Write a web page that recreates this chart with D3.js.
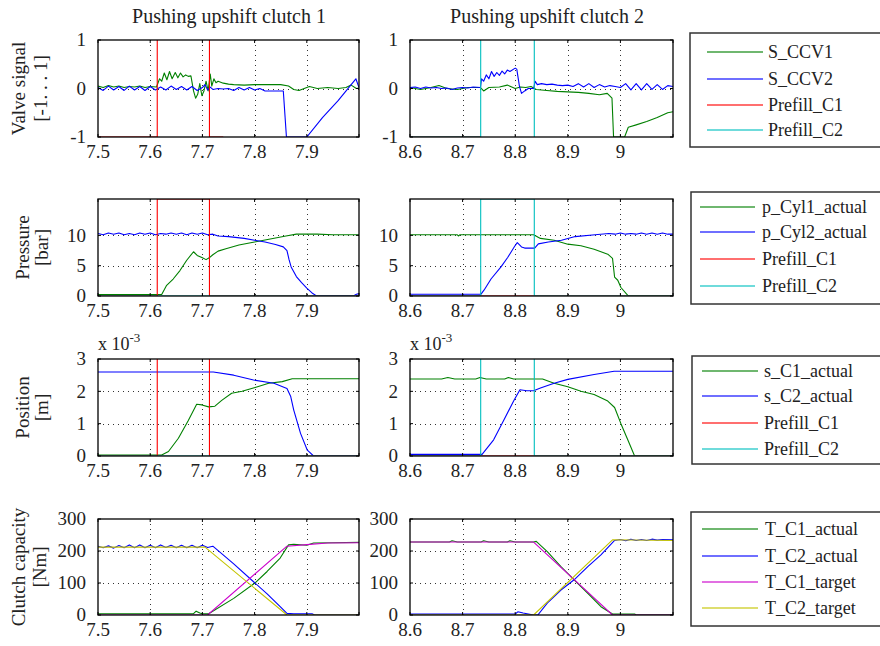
<!DOCTYPE html>
<html>
<head>
<meta charset="utf-8">
<script src="https://cdn.jsdelivr.net/npm/d3@7"></script>
<style>
  body { margin: 0; background: #fff; }
  svg { display: block; }
  text { font-family: "Liberation Serif", "DejaVu Serif", serif; fill: #222; }
</style>
</head>
<body>
<svg id="chart" width="880" height="646"></svg>
<script>
// ---- Data (time [s], value) ----

// Valve signal [-1..1]
const sCCV1Left = [[7.50,0.05],[7.51,0.02],[7.52,0.06],[7.53,0.03],[7.54,0.05],[7.55,0.02],[7.56,0.04],[7.57,0.03],[7.58,0.05],[7.59,0.02],[7.60,0.04],[7.612,0.03],[7.618,0.2],[7.622,0.15],[7.627,0.32],[7.632,0.18],[7.637,0.35],[7.642,0.2],[7.648,0.33],[7.653,0.22],[7.658,0.32],[7.663,0.24],[7.668,0.28],[7.673,0.25],[7.678,0.26],[7.683,-0.05],[7.687,-0.2],[7.691,-0.12],[7.695,0.1],[7.699,-0.15],[7.703,-0.05],[7.707,0.15],[7.711,-0.05],[7.715,0.3],[7.718,0.05],[7.722,0.2],[7.726,0.12],[7.73,0.15],[7.74,0.11],[7.75,0.09],[7.76,0.08],[7.78,0.07],[7.80,0.08],[7.85,0.08],[7.865,0.05],[7.875,-0.02],[7.885,-0.04],[7.895,0.0],[7.905,0.04],[7.92,0.0],[7.94,0.02],[7.96,0.0],[7.975,0.02],[7.985,0.07],[7.995,0.0],[8.0,0.01]];
const sCCV2Left = [[7.50,0.02],[7.51,-0.04],[7.52,0.05],[7.53,-0.03],[7.54,0.04],[7.55,-0.04],[7.56,0.05],[7.57,-0.03],[7.58,0.04],[7.59,-0.04],[7.60,0.04],[7.61,-0.03],[7.62,0.03],[7.63,-0.03],[7.64,0.05],[7.65,-0.02],[7.66,0.04],[7.67,-0.03],[7.68,0.04],[7.69,-0.04],[7.70,0.02],[7.705,0.08],[7.71,-0.03],[7.715,0.03],[7.72,-0.02],[7.73,0.0],[7.74,-0.01],[7.75,0.0],[7.76,-0.04],[7.77,0.02],[7.78,-0.03],[7.79,0.02],[7.80,-0.03],[7.81,0.0],[7.82,-0.05],[7.855,-0.05],[7.861,-1],[7.90,-1],[7.93,-0.6],[7.96,-0.25],[7.994,0.2],[8.0,0.02]];
const sCCV1Right = [[8.60,0.02],[8.62,-0.02],[8.64,0.02],[8.655,0.06],[8.67,0.0],[8.69,-0.02],[8.71,0.02],[8.734,0.02],[8.74,-0.05],[8.75,0.02],[8.77,0.03],[8.785,0.07],[8.80,0.0],[8.81,0.03],[8.82,0.02],[8.83,0.04],[8.84,-0.02],[8.86,-0.04],[8.88,-0.06],[8.90,-0.07],[8.92,-0.08],[8.94,-0.1],[8.96,-0.13],[8.975,-0.1],[8.984,-0.2],[8.987,-1],[9.008,-1],[9.015,-0.8],[9.03,-0.75],[9.05,-0.68],[9.07,-0.6],[9.09,-0.5],[9.10,-0.48]];
const sCCV2Right = [[8.60,0.02],[8.61,0.03],[8.62,0.0],[8.63,0.03],[8.64,0.01],[8.65,0.02],[8.66,0.0],[8.67,0.01],[8.68,-0.02],[8.69,0.01],[8.70,0.02],[8.71,0.01],[8.72,0.03],[8.734,0.02],[8.736,0.2],[8.74,0.15],[8.745,0.28],[8.75,0.2],[8.755,0.35],[8.76,0.25],[8.765,0.33],[8.77,0.27],[8.775,0.36],[8.78,0.3],[8.785,0.38],[8.79,0.35],[8.80,0.42],[8.803,0.4],[8.808,0.05],[8.812,-0.1],[8.818,-0.05],[8.825,0.0],[8.835,0.0],[8.838,0.15],[8.842,0.08],[8.85,0.1],[8.86,0.08],[8.87,0.09],[8.88,0.07],[8.89,0.06],[8.90,0.07],[8.91,0.04],[8.92,0.1],[8.93,0.03],[8.94,0.1],[8.95,0.02],[8.96,0.08],[8.97,0.03],[8.98,0.06],[8.99,0.04],[9.00,0.02],[9.01,0.1],[9.02,-0.03],[9.03,0.1],[9.04,-0.03],[9.05,0.1],[9.06,-0.02],[9.07,0.08],[9.08,-0.02],[9.09,0.06],[9.10,0.04]];
const prefillC1Valve = [[7.5,-1],[7.6135,-1],[7.6135,2],[7.7135,2],[7.7135,-1],[7.74,-1]];
const prefillC2Valve = [[8.6,-1],[8.7344,-1],[8.7344,2],[8.8363,2],[8.8363,-2]];

// Pressure [bar]
const pCyl1Left = [[7.50,0.25],[7.55,0.25],[7.60,0.25],[7.622,0.25],[7.631,1.7],[7.644,2.8],[7.657,4.2],[7.67,5.9],[7.683,7.3],[7.69,6.7],[7.70,6.3],[7.707,6.0],[7.713,6.3],[7.72,6.8],[7.73,7.4],[7.745,7.8],[7.77,8.4],[7.80,8.9],[7.83,9.4],[7.86,9.9],[7.88,10.2],[7.92,10.2],[7.95,10.1],[8.0,10.1]];
const pCyl2Left = [[7.50,10.3],[7.51,10.1],[7.52,10.4],[7.53,10.2],[7.54,10.4],[7.55,10.1],[7.56,10.3],[7.57,10.1],[7.58,10.4],[7.59,10.2],[7.60,10.4],[7.61,10.1],[7.62,10.3],[7.63,10.2],[7.64,10.4],[7.65,10.2],[7.66,10.4],[7.67,10.1],[7.68,10.4],[7.69,10.2],[7.70,10.4],[7.71,10.1],[7.72,10.2],[7.73,9.9],[7.75,9.8],[7.78,9.5],[7.80,9.2],[7.82,8.9],[7.84,8.5],[7.855,8.1],[7.862,7.5],[7.866,6.0],[7.87,4.8],[7.88,3.2],[7.89,2.2],[7.90,1.3],[7.91,0.5],[7.918,0.05],[7.99,0.05],[7.995,0.3],[8.0,0.4]];
const pCyl1Right = [[8.60,10.1],[8.69,10.1],[8.692,9.9],[8.695,10.1],[8.80,10.1],[8.835,10.1],[8.848,9.5],[8.874,9.2],[8.90,8.55],[8.925,8.3],[8.95,7.7],[8.976,6.9],[8.985,6.2],[8.989,3.1],[8.995,2.6],[9.001,1.4],[9.014,0.1],[9.018,0.0],[9.10,0.0]];
const pCyl2Right = [[8.60,0.3],[8.735,0.3],[8.741,1.0],[8.754,2.8],[8.773,4.8],[8.786,6.4],[8.799,8.2],[8.804,8.8],[8.812,8.1],[8.818,7.9],[8.837,7.9],[8.844,8.6],[8.863,8.9],[8.888,9.2],[8.914,9.8],[8.952,10.1],[8.978,10.3],[8.99,10.2],[9.00,10.4],[9.01,10.2],[9.02,10.3],[9.03,10.2],[9.04,10.4],[9.05,10.2],[9.06,10.4],[9.07,10.2],[9.08,10.4],[9.09,10.2],[9.10,10.2]];
const prefillC1PressLeft = [[7.5,0],[7.6135,0],[7.6135,16],[7.7135,16],[7.7135,0],[8.0,0]];
const prefillC2PressLeft = [[7.5,0],[8.0,0]];
const prefillC1PressRight = [[8.6,0],[9.1,0]];
const prefillC2PressRight = [[8.6,0],[8.7344,0],[8.7344,16],[8.8363,16],[8.8363,0],[9.1,0]];

// Position [m], values in units of 1e-3
const sC1Left = [[7.50,0.03],[7.622,0.03],[7.635,0.14],[7.654,0.55],[7.673,1.1],[7.689,1.6],[7.699,1.58],[7.712,1.52],[7.724,1.54],[7.737,1.72],[7.756,1.94],[7.776,2.0],[7.801,2.12],[7.827,2.25],[7.853,2.3],[7.872,2.39],[8.0,2.39]];
const sC2Left = [[7.50,2.6],[7.721,2.6],[7.76,2.5],[7.798,2.35],[7.837,2.25],[7.862,2.09],[7.869,1.85],[7.875,1.42],[7.888,0.7],[7.901,0.18],[7.913,0.0],[8.0,0.0]];
const sC1Right = [[8.60,2.38],[8.66,2.38],[8.672,2.43],[8.685,2.38],[8.725,2.38],[8.733,2.43],[8.745,2.38],[8.78,2.38],[8.787,2.43],[8.797,2.38],[8.852,2.38],[8.874,2.25],[8.90,2.14],[8.925,2.0],[8.95,1.9],[8.976,1.7],[8.989,1.5],[9.001,1.0],[9.014,0.5],[9.027,0.0],[9.10,0.0]];
const sC2Right = [[8.60,0.05],[8.737,0.05],[8.759,0.5],[8.778,1.1],[8.797,1.7],[8.809,2.05],[8.822,2.02],[8.835,2.02],[8.848,2.1],[8.874,2.25],[8.90,2.37],[8.95,2.52],[8.988,2.62],[9.10,2.62]];
const prefillC1PosLeft = [[7.5,0],[7.6135,0],[7.6135,10],[7.7135,10],[7.7135,0],[8.0,0]];
const prefillC2PosLeft = [[7.5,0],[8.0,0]];
const prefillC1PosRight = [[8.6,0],[9.1,0]];
const prefillC2PosRight = [[8.6,0],[8.7344,0],[8.7344,10],[8.8363,10],[8.8363,0],[9.1,0]];

// Clutch capacity [Nm]
const tC1ActLeft = [[7.50,4],[7.683,4],[7.688,12],[7.695,6],[7.70,4],[7.712,4],[7.76,52],[7.80,99],[7.824,136],[7.849,178],[7.865,219],[7.875,221],[7.90,218],[7.913,225],[7.95,226],[8.0,227]];
const tC2ActLeft = [[7.50,215],[7.51,210],[7.52,216],[7.53,209],[7.54,217],[7.55,210],[7.56,219],[7.57,210],[7.58,219],[7.59,210],[7.60,218],[7.61,210],[7.62,219],[7.63,211],[7.64,218],[7.65,210],[7.66,218],[7.67,210],[7.68,218],[7.69,210],[7.70,218],[7.71,211],[7.72,215],[7.76,160],[7.798,104],[7.824,66],[7.849,26],[7.862,5],[7.875,4],[7.91,4],[7.915,0],[8.0,0]];
const tC1TgtLeft = [[7.50,0],[7.71,0],[7.862,215],[7.90,220],[7.94,225],[8.0,226]];
const tC2TgtLeft = [[7.50,212],[7.705,212],[7.862,0],[8.0,0]];
const tC1ActRight = [[8.60,228],[8.675,228],[8.68,232],[8.69,228],[8.735,228],[8.74,232],[8.75,228],[8.785,228],[8.79,232],[8.80,228],[8.835,228],[8.84,230],[8.861,198],[8.887,151],[8.912,110],[8.938,68],[8.963,26],[8.985,3],[9.027,3],[9.03,0],[9.10,0]];
const tC2ActRight = [[8.60,3],[8.80,3],[8.805,10],[8.815,6],[8.825,3],[8.835,0],[8.843,0],[8.861,37],[8.887,78],[8.912,110],[8.938,151],[8.963,188],[8.989,233],[9.00,236],[9.01,232],[9.02,237],[9.03,233],[9.04,236],[9.05,233],[9.06,237],[9.07,234],[9.08,236],[9.10,235]];
const tC1TgtRight = [[8.60,228],[8.835,228],[8.985,0],[9.10,0]];
const tC2TgtRight = [[8.60,0],[8.835,0],[8.985,235],[9.10,233]];

// Axis ticks and labels
const titles = ["Pushing upshift clutch 1", "Pushing upshift clutch 2"];
const xTicksLeft = [7.5, 7.6, 7.7, 7.8, 7.9, 8.0];
const xTicksRight = [8.6, 8.7, 8.8, 8.9, 9.0, 9.1];
const yTicksValve = [-1, 0, 1];
const yTicksPress = [0, 5, 10];
const yTicksPos = [0, 1, 2, 3];
const yTicksTorque = [0, 100, 200, 300];
const legendValve = ["S_CCV1", "S_CCV2", "Prefill_C1", "Prefill_C2"];
const legendPress = ["p_Cyl1_actual", "p_Cyl2_actual", "Prefill_C1", "Prefill_C2"];
const legendPos = ["s_C1_actual", "s_C2_actual", "Prefill_C1", "Prefill_C2"];
const legendTorque = ["T_C1_actual", "T_C2_actual", "T_C1_target", "T_C2_target"];

// ---- Styles / layout ----
const GREEN = "#008000", BLUE = "#0000ff", RED = "#ff0000", CYAN = "#00bfbf", MAGENTA = "#cc00cc", YELLOW = "#c4c400";
const COLS = [
  { x0: 98, x1: 359, domain: [7.5, 8.0], ticks: xTicksLeft, titleX: 229 },
  { x0: 410, x1: 673, domain: [8.6, 9.1], ticks: xTicksRight, titleX: 547 }
];
const ROWS = [
  { y0: 40, y1: 137, domain: [-1, 1], ticks: yTicksValve, label: ["Valve signal", "[-1. . . 1]"], labX: [25, 47],
    colors: [GREEN, BLUE, RED, CYAN], legend: legendValve,
    series: [[sCCV1Left, sCCV2Left, prefillC1Valve, []], [sCCV1Right, sCCV2Right, [[8.6,-1],[8.7344,-1]], prefillC2Valve]] },
  { y0: 199, y1: 296, domain: [0, 16], ticks: yTicksPress, label: ["Pressure", "[bar]"], labX: [29, 48],
    colors: [GREEN, BLUE, RED, CYAN], legend: legendPress,
    series: [[pCyl1Left, pCyl2Left, prefillC1PressLeft, prefillC2PressLeft], [pCyl1Right, pCyl2Right, prefillC1PressRight, prefillC2PressRight]] },
  { y0: 359, y1: 456, domain: [0, 3], ticks: yTicksPos, label: ["Position", "[m]"], labX: [29, 48], exponent: true,
    colors: [GREEN, BLUE, RED, CYAN], legend: legendPos,
    series: [[sC1Left, sC2Left, prefillC1PosLeft, prefillC2PosLeft], [sC1Right, sC2Right, prefillC1PosRight, prefillC2PosRight]] },
  { y0: 519, y1: 615, domain: [0, 300], ticks: yTicksTorque, label: ["Clutch capacity", "[Nm]"], labX: [25, 46],
    colors: [GREEN, BLUE, MAGENTA, YELLOW], legend: legendTorque,
    series: [[tC1ActLeft, tC2ActLeft, tC1TgtLeft, tC2TgtLeft], [tC1ActRight, tC2ActRight, tC1TgtRight, tC2TgtRight]] }
];
const LEGENDS = [
  { x: 690, y0: 33, y1: 147, lineX: [707, 763], textX: 768, rows: [52, 79, 105, 130] },
  { x: 691, y0: 192, y1: 304, lineX: [700, 755], textX: 762, rows: [207, 232, 259, 286] },
  { x: 692, y0: 356, y1: 464, lineX: [702, 758], textX: 764, rows: [371, 396, 423, 449] },
  { x: 691, y0: 512, y1: 626, lineX: [702, 758], textX: 765, rows: [529, 556, 582, 608] }
];
const TICK_LEN = 3;
const fmtX = d => String(+d.toFixed(1));

const svg = d3.select("#chart");

// Column titles
COLS.forEach((c, i) => {
  svg.append("text").attr("x", c.titleX).attr("y", 23)
    .attr("text-anchor", "middle").attr("font-size", 20).text(titles[i]);
});

ROWS.forEach((row, ri) => {
  // y-axis label (two lines, rotated)
  const cy = (row.y0 + row.y1) / 2;
  row.label.forEach((t, li) => {
    svg.append("text")
      .attr("transform", `translate(${row.labX[li]},${cy}) rotate(-90)`)
      .attr("text-anchor", "middle").attr("font-size", 19).text(t);
  });

  COLS.forEach((col, ci) => {
    const x = d3.scaleLinear().domain(col.domain).range([col.x0, col.x1]);
    const y = d3.scaleLinear().domain(row.domain).range([row.y1, row.y0]);
    const g = svg.append("g");
    const clipId = `clip-${ri}-${ci}`;
    svg.append("clipPath").attr("id", clipId).append("rect")
      .attr("x", col.x0).attr("y", row.y0).attr("width", col.x1 - col.x0).attr("height", row.y1 - row.y0);

    // dotted grid
    const innerX = col.ticks.slice(1, -1);
    const innerY = row.ticks.filter(v => v > row.domain[0] && v < row.domain[1]);
    g.selectAll(".gx").data(innerX).enter().append("line")
      .attr("x1", d => Math.round(x(d)) + 0.5).attr("x2", d => Math.round(x(d)) + 0.5)
      .attr("y1", row.y0).attr("y2", row.y1)
      .attr("stroke", "#333").attr("stroke-width", 1).attr("stroke-dasharray", "1,4");
    g.selectAll(".gy").data(innerY).enter().append("line")
      .attr("y1", d => Math.round(y(d)) + 0.5).attr("y2", d => Math.round(y(d)) + 0.5)
      .attr("x1", col.x0).attr("x2", col.x1)
      .attr("stroke", "#333").attr("stroke-width", 1).attr("stroke-dasharray", "1,4");

    // series
    const line = d3.line().x(d => x(d[0])).y(d => y(d[1]));
    const plot = g.append("g").attr("clip-path", `url(#${clipId})`);
    row.series[ci].forEach((data, si) => {
      if (!data.length) return;
      plot.append("path").attr("d", line(data))
        .attr("fill", "none").attr("stroke", row.colors[si]).attr("stroke-width", 1.1)
        .attr("stroke-linejoin", "round");
    });

    // frame
    g.append("rect").attr("x", col.x0).attr("y", row.y0)
      .attr("width", col.x1 - col.x0).attr("height", row.y1 - row.y0)
      .attr("fill", "none").attr("stroke", "#000").attr("stroke-width", 1.3);

    // inward ticks on all sides
    col.ticks.forEach(v => {
      const px = x(v);
      g.append("line").attr("x1", px).attr("x2", px).attr("y1", row.y1).attr("y2", row.y1 - TICK_LEN).attr("stroke", "#000");
      g.append("line").attr("x1", px).attr("x2", px).attr("y1", row.y0).attr("y2", row.y0 + TICK_LEN).attr("stroke", "#000");
    });
    row.ticks.forEach(v => {
      const py = y(v);
      g.append("line").attr("x1", col.x0).attr("x2", col.x0 + TICK_LEN).attr("y1", py).attr("y2", py).attr("stroke", "#000");
      g.append("line").attr("x1", col.x1).attr("x2", col.x1 - TICK_LEN).attr("y1", py).attr("y2", py).attr("stroke", "#000");
    });

    // tick labels
    col.ticks.slice(0, -1).forEach(v => {
      g.append("text").attr("x", x(v)).attr("y", row.y1 + 21)
        .attr("text-anchor", "middle").attr("font-size", 19).text(fmtX(v));
    });
    row.ticks.forEach(v => {
      g.append("text").attr("x", col.x0 - 12).attr("y", y(v)).attr("dy", "0.33em")
        .attr("text-anchor", "end").attr("font-size", 19).text(String(v));
    });

    if (row.exponent) {
      const t = g.append("text").attr("x", col.x0).attr("y", row.y0 - 9).attr("font-size", 18);
      t.append("tspan").text("x 10");
      t.append("tspan").attr("dy", -8).attr("font-size", 13).text("-3");
    }
  });

  // legend box
  const lg = LEGENDS[ri];
  svg.append("rect").attr("x", lg.x).attr("y", lg.y0)
    .attr("width", 200).attr("height", lg.y1 - lg.y0)
    .attr("fill", "#fff").attr("stroke", "#333").attr("stroke-width", 1.5);
  row.legend.forEach((name, k) => {
    svg.append("line").attr("x1", lg.lineX[0]).attr("x2", lg.lineX[1])
      .attr("y1", lg.rows[k]).attr("y2", lg.rows[k])
      .attr("stroke", row.colors[k]).attr("stroke-width", 1.3).attr("opacity", 0.75);
    svg.append("text").attr("x", lg.textX).attr("y", lg.rows[k]).attr("dy", "0.35em")
      .attr("font-size", 18).text(name);
  });
});
</script>
</body>
</html>
